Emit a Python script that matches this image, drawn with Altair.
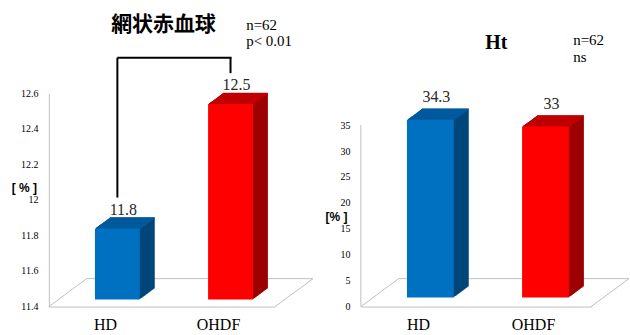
import altair as alt
import pandas as pd

# ---------------- data ----------------
categories = ["HD", "OHDF"]
retic_values = [11.8, 12.5]
retic_labels = ["11.8", "12.5"]
ht_values = [34.3, 33.0]
ht_labels = ["34.3", "33"]
retic_ticks = [11.4, 11.6, 11.8, 12.0, 12.2, 12.4, 12.6]
ht_ticks = [0, 5, 10, 15, 20, 25, 30, 35]
front_colors = ["#0070C0", "#FF0000"]
top_colors = ["#005A9E", "#C00000"]
side_colors = ["#00467A", "#9C0000"]

# ---------------- layout / style constants ----------------
H = 214                 # plot height (both panels)
W1, W2 = 227, 231       # plot widths
BW1, BW2 = 45, 47       # bar widths
BX = 12                 # bar shift toward the back (px)
DX, DY = 15, 11         # bar depth (px)
N = 15                  # extrusion steps
FDX, FDY = 38, 28       # floor depth (px)
GRID = "#BFBFBF"
SERIF = "'Liberation Serif', 'Times New Roman', serif"
SANS = "'Liberation Sans', Arial, sans-serif"


def panel(values, labels, ymin, ymax, ticks, W, BW, BY, label_dy, domain_line,
          unit_title, unit_y):
    df = pd.DataFrame({
        "cat": categories, "value": values, "label": labels,
        "base": [ymin] * len(values),
        "front": front_colors, "top": top_colors, "side": side_colors,
    })
    base = alt.Chart(df)
    xs = alt.Scale(domain=categories, paddingInner=0, paddingOuter=0)
    ys = alt.Scale(domain=[ymin, ymax], nice=False, zero=False)
    ax_x = alt.Axis(
        title=None, ticks=False, domainColor=GRID, labelAngle=0,
        labelFont=SERIF, labelFontSize=16, labelColor="#000", labelPadding=10)
    ax_y = alt.Axis(
        values=ticks, format="~g", grid=False, ticks=False,
        domain=domain_line, domainColor=GRID,
        labelFont=SERIF, labelFontSize=10, labelColor="#000", labelPadding=11,
        title=unit_title, titleAngle=0, titleFont=SANS,
        titleFontSize=12, titleFontWeight="bold", titleColor="#000",
        titleX=-25, titleY=unit_y,
        titleAlign="center", titleBaseline="middle")

    def X(f):
        return alt.X(f, type="nominal", scale=xs, axis=ax_x)

    def Y(f):
        return alt.Y(f, type="quantitative", scale=ys, axis=ax_y)

    layers = []
    one = alt.Chart(pd.DataFrame({"a": [0]}))
    fl = dict(color=GRID, strokeWidth=1)
    # front face built first (drawn last) - it carries the axes
    front = base.mark_bar(size=BW, xOffset=BX, x2Offset=BX,
                          yOffset=BY, y2Offset=BY).encode(
        x=X("cat"), y=Y("value"), y2="base:Q",
        color=alt.Color("front:N", scale=None))
    # floor (back edge and diagonals)
    layers.append(one.mark_rule(**fl).encode(
        x=alt.value(FDX), x2=alt.value(W + FDX), y=alt.value(H - FDY)))
    layers.append(one.mark_rule(**fl).encode(
        x=alt.value(0), x2=alt.value(FDX), y=alt.value(H), y2=alt.value(H - FDY)))
    layers.append(one.mark_rule(**fl).encode(
        x=alt.value(W), x2=alt.value(W + FDX), y=alt.value(H), y2=alt.value(H - FDY)))
    if not domain_line:
        ax = alt.Chart(pd.DataFrame({"lo": [ticks[0]], "hi": [ticks[-1]]}))
        layers.append(ax.mark_rule(**fl).encode(
            x=alt.value(0), y=Y("lo"), y2="hi:Q"))

    # extrusion (side colour)
    for k in range(1, N + 1):
        ox = BX + k * DX / N
        oy = BY - k * DY / N
        layers.append(base.mark_bar(size=BW, xOffset=ox, x2Offset=ox,
                                    yOffset=oy, y2Offset=oy).encode(
            x=X("cat"), y=Y("value"), y2="base:Q",
            color=alt.Color("side:N", scale=None)))
    # top face strips
    for k in range(1, N + 1):
        ox = BX + k * DX / N
        oy = BY - k * DY / N
        layers.append(base.mark_bar(size=BW, xOffset=ox, x2Offset=ox,
                                    yOffset=oy - 0.2, y2Offset=oy + DY / N + 0.4).encode(
            x=X("cat"), y=Y("value"), y2="value:Q",
            color=alt.Color("top:N", scale=None)))
    layers.append(front)
    # value labels
    layers.append(base.mark_text(font=SERIF, fontSize=16, color="#262626",
                                 baseline="alphabetic", xOffset=18, yOffset=label_dy).encode(
        x=X("cat"), y=Y("value"), text="label:N"))
    return layers, one, X, Y


def note(chart, text, x, y, size=15, weight="normal", align="left", baseline="alphabetic"):
    return chart.mark_text(text=text, font=SERIF, fontSize=size, fontWeight=weight,
                           color="#000", align=align, baseline=baseline).encode(
        x=alt.value(x), y=alt.value(y))


# ---------- left panel: reticulocytes ----------
L, one, X1, Y1 = panel(retic_values, retic_labels, 11.4, 12.6, retic_ticks,
                       W1, BW1, -7, -21, True, "[ % ]", 95)
BR_TOP = 12.8
brk = alt.Chart(pd.DataFrame({"cat": categories, "value": retic_values,
                              "top": [BR_TOP, BR_TOP]}))
br = dict(color="#000", strokeWidth=2)
L.append(brk.mark_rule(xOffset=BX, yOffset=-38, y2Offset=0, **br).encode(
    x=X1("cat"), y=Y1("value"), y2="top:Q"))
bh = alt.Chart(pd.DataFrame({"c1": ["HD"], "c2": ["OHDF"], "top": [BR_TOP]}))
L.append(bh.mark_rule(xOffset=BX, x2Offset=BX + 1, **br).encode(
    x=X1("c1"), x2="c2:N", y=Y1("top")))
L.append(one.mark_text(text="網状赤血球", font="Noto Sans CJK JP", fontSize=21,
                       fontWeight="bold", color="#000", align="center",
                       baseline="middle").encode(x=alt.value(115), y=alt.value(-68)))
L.append(note(one, "n=62", 198, -63))
L.append(note(one, "p< 0.01", 198, -47))
# invisible anchor fixing the top-left corner of the picture
L.append(one.mark_rule(opacity=0, strokeOpacity=0).encode(
    x=alt.value(-49), x2=alt.value(-48), y=alt.value(-93), y2=alt.value(-92)))
left = alt.layer(*L).properties(width=W1, height=H)

# ---------- right panel: Ht ----------
HT_TOP = 35 * H / 182   # axis 0..35 spans the lower 182 px
R, one2, X2, Y2 = panel(ht_values, ht_labels, 0, HT_TOP, ht_ticks,
                        W2, BW2, -9, -27, False, "[% ]", 124)
R.append(note(one2, "Ht", 136, -50, size=20, weight="bold", align="center",
              baseline="middle"))
R.append(note(one2, "n=62", 213, -48))
R.append(note(one2, "ns", 213, -31))
right = alt.layer(*R).properties(width=W2, height=H)

chart = alt.hconcat(left, right, spacing=362 - 49 - W1, bounds="flush").properties(
    padding=0).configure_view(stroke=None)

chart.save("out.html", embed_options={"renderer": "svg", "actions": False})
